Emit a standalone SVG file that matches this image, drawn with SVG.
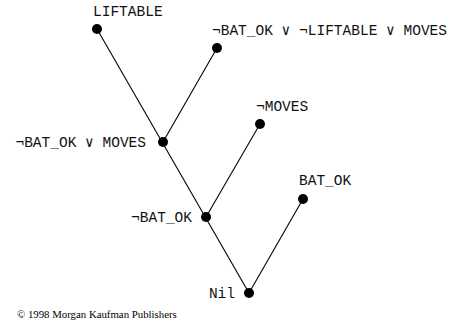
<svg xmlns="http://www.w3.org/2000/svg" width="449" height="322" viewBox="0 0 449 322">
<style>
.e{stroke:#000;stroke-width:1.1;fill:none}
.d{fill:#000}
.t{font-family:"Liberation Mono","Courier New",monospace;font-size:14.5px;fill:#111}
.c{font-family:"Liberation Serif","Times New Roman",serif;font-size:10.8px;fill:#000}
</style>
<rect width="449" height="322" fill="#fff"/>
<g id="edges">
<line class="e" x1="97" y1="29" x2="249" y2="293"/>
<line class="e" x1="217" y1="48" x2="163" y2="142"/>
<line class="e" x1="260" y1="124" x2="206" y2="217"/>
<line class="e" x1="303" y1="199" x2="249" y2="293"/>
</g>
<g id="n1"><circle class="d" cx="97" cy="29" r="5"/><text class="t" x="93" y="16">LIFTABLE</text></g>
<g id="n2"><circle class="d" cx="217" cy="48" r="5"/><text class="t" x="212" y="35">¬BAT_OK ∨ ¬LIFTABLE ∨ MOVES</text></g>
<g id="n3"><circle class="d" cx="163" cy="142" r="5"/><text class="t" x="146" y="147" text-anchor="end">¬BAT_OK ∨ MOVES</text></g>
<g id="n4"><circle class="d" cx="260" cy="124" r="5"/><text class="t" x="256" y="111">¬MOVES</text></g>
<g id="n5"><circle class="d" cx="206" cy="217" r="5"/><text class="t" x="192" y="222" text-anchor="end">¬BAT_OK</text></g>
<g id="n6"><circle class="d" cx="303" cy="199" r="5"/><text class="t" x="299" y="185">BAT_OK</text></g>
<g id="n7"><circle class="d" cx="249" cy="293" r="5"/><text class="t" x="235" y="298" text-anchor="end">Nil</text></g>
<text class="c" x="17" y="318">© 1998 Morgan Kaufman Publishers</text>
</svg>
